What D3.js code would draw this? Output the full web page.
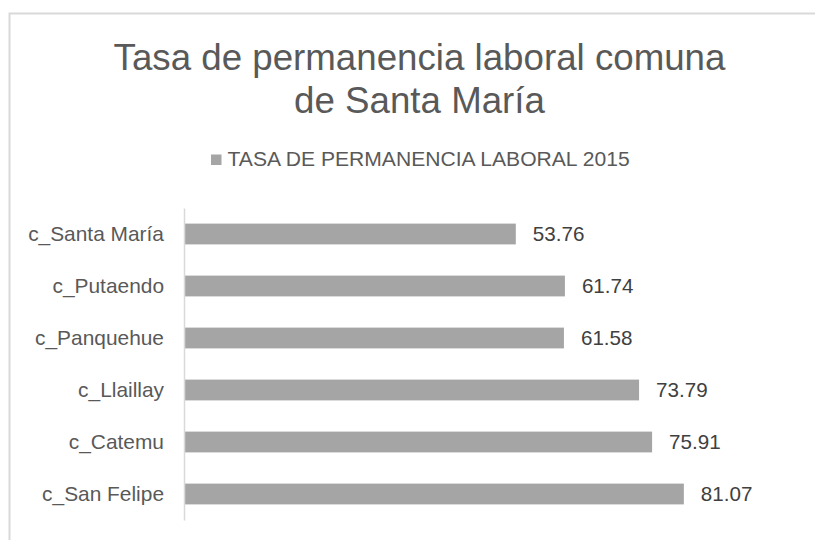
<!DOCTYPE html>
<html>
<head>
<meta charset="utf-8">
<script src="https://cdn.jsdelivr.net/npm/d3@7"></script>
<style>
  body { margin: 0; background: #fff; }
  text { font-family: "Liberation Sans", Arial, sans-serif; }
</style>
</head>
<body>
<svg width="815" height="540"></svg>
<script>
// data
var comunas = ["c_Santa María", "c_Putaendo", "c_Panquehue", "c_Llaillay", "c_Catemu", "c_San Felipe"];
var tasa2015 = [53.76, 61.74, 61.58, 73.79, 75.91, 81.07];
var titleLines = ["Tasa de permanencia laboral comuna", "de Santa María"];
var seriesName = "TASA DE PERMANENCIA LABORAL 2015";

var svg = d3.select("svg");

// chart border (runs off the right/bottom edge)
svg.append("rect")
  .attr("x", 9.5).attr("y", 13.5)
  .attr("width", 830).attr("height", 560)
  .attr("fill", "none")
  .attr("stroke", "#d9d9d9")
  .attr("stroke-width", 2);

// title
svg.append("g").selectAll("text")
  .data(titleLines)
  .enter().append("text")
    .attr("x", 419.5)
    .attr("y", function(d, i){ return 69.5 + i * 43.3 })
    .attr("text-anchor", "middle")
    .style("font-size", "36.7px")
    .style("fill", "#595959")
    .text(function(d){ return d });

// legend
svg.append("rect")
  .attr("x", 211).attr("y", 154.5)
  .attr("width", 10.5).attr("height", 10.5)
  .attr("fill", "#a5a5a5");
svg.append("text")
  .attr("x", 227.5).attr("y", 166)
  .style("font-size", "21.1px")
  .style("fill", "#595959")
  .text(seriesName);

// scales
var x = d3.scaleLinear()
  .domain([0, 90])
  .range([185, 738.8]);

var y = d3.scaleBand()
  .domain(comunas)
  .range([208, 520])
  .paddingInner(0.6)
  .paddingOuter(0.3);

var data = comunas.map(function(c, i){ return {name: c, value: tasa2015[i]} });

// bars
svg.append("g").selectAll("rect")
  .data(data)
  .enter().append("rect")
    .attr("x", x(0))
    .attr("y", function(d){ return y(d.name) })
    .attr("width", function(d){ return x(d.value) - x(0) })
    .attr("height", y.bandwidth())
    .attr("fill", "#a5a5a5");

// value labels
svg.append("g").selectAll("text")
  .data(data)
  .enter().append("text")
    .attr("x", function(d){ return x(d.value) + 17 })
    .attr("y", function(d){ return y(d.name) + y.bandwidth() / 2 })
    .attr("dy", "0.35em")
    .style("font-size", "20.6px")
    .style("fill", "#404040")
    .text(function(d){ return d3.format(".2f")(d.value) });

// category axis
var yAxis = svg.append("g")
  .attr("transform", "translate(184,0)")
  .call(d3.axisLeft(y).tickSize(0).tickPadding(20));
yAxis.select(".domain")
  .attr("stroke", "#d9d9d9")
  .attr("stroke-width", 1.5);
yAxis.selectAll("text")
  .attr("dy", "0.35em")
  .style("font-family", "'Liberation Sans', Arial, sans-serif")
  .style("font-size", "20.9px")
  .style("fill", "#595959");
</script>
</body>
</html>
